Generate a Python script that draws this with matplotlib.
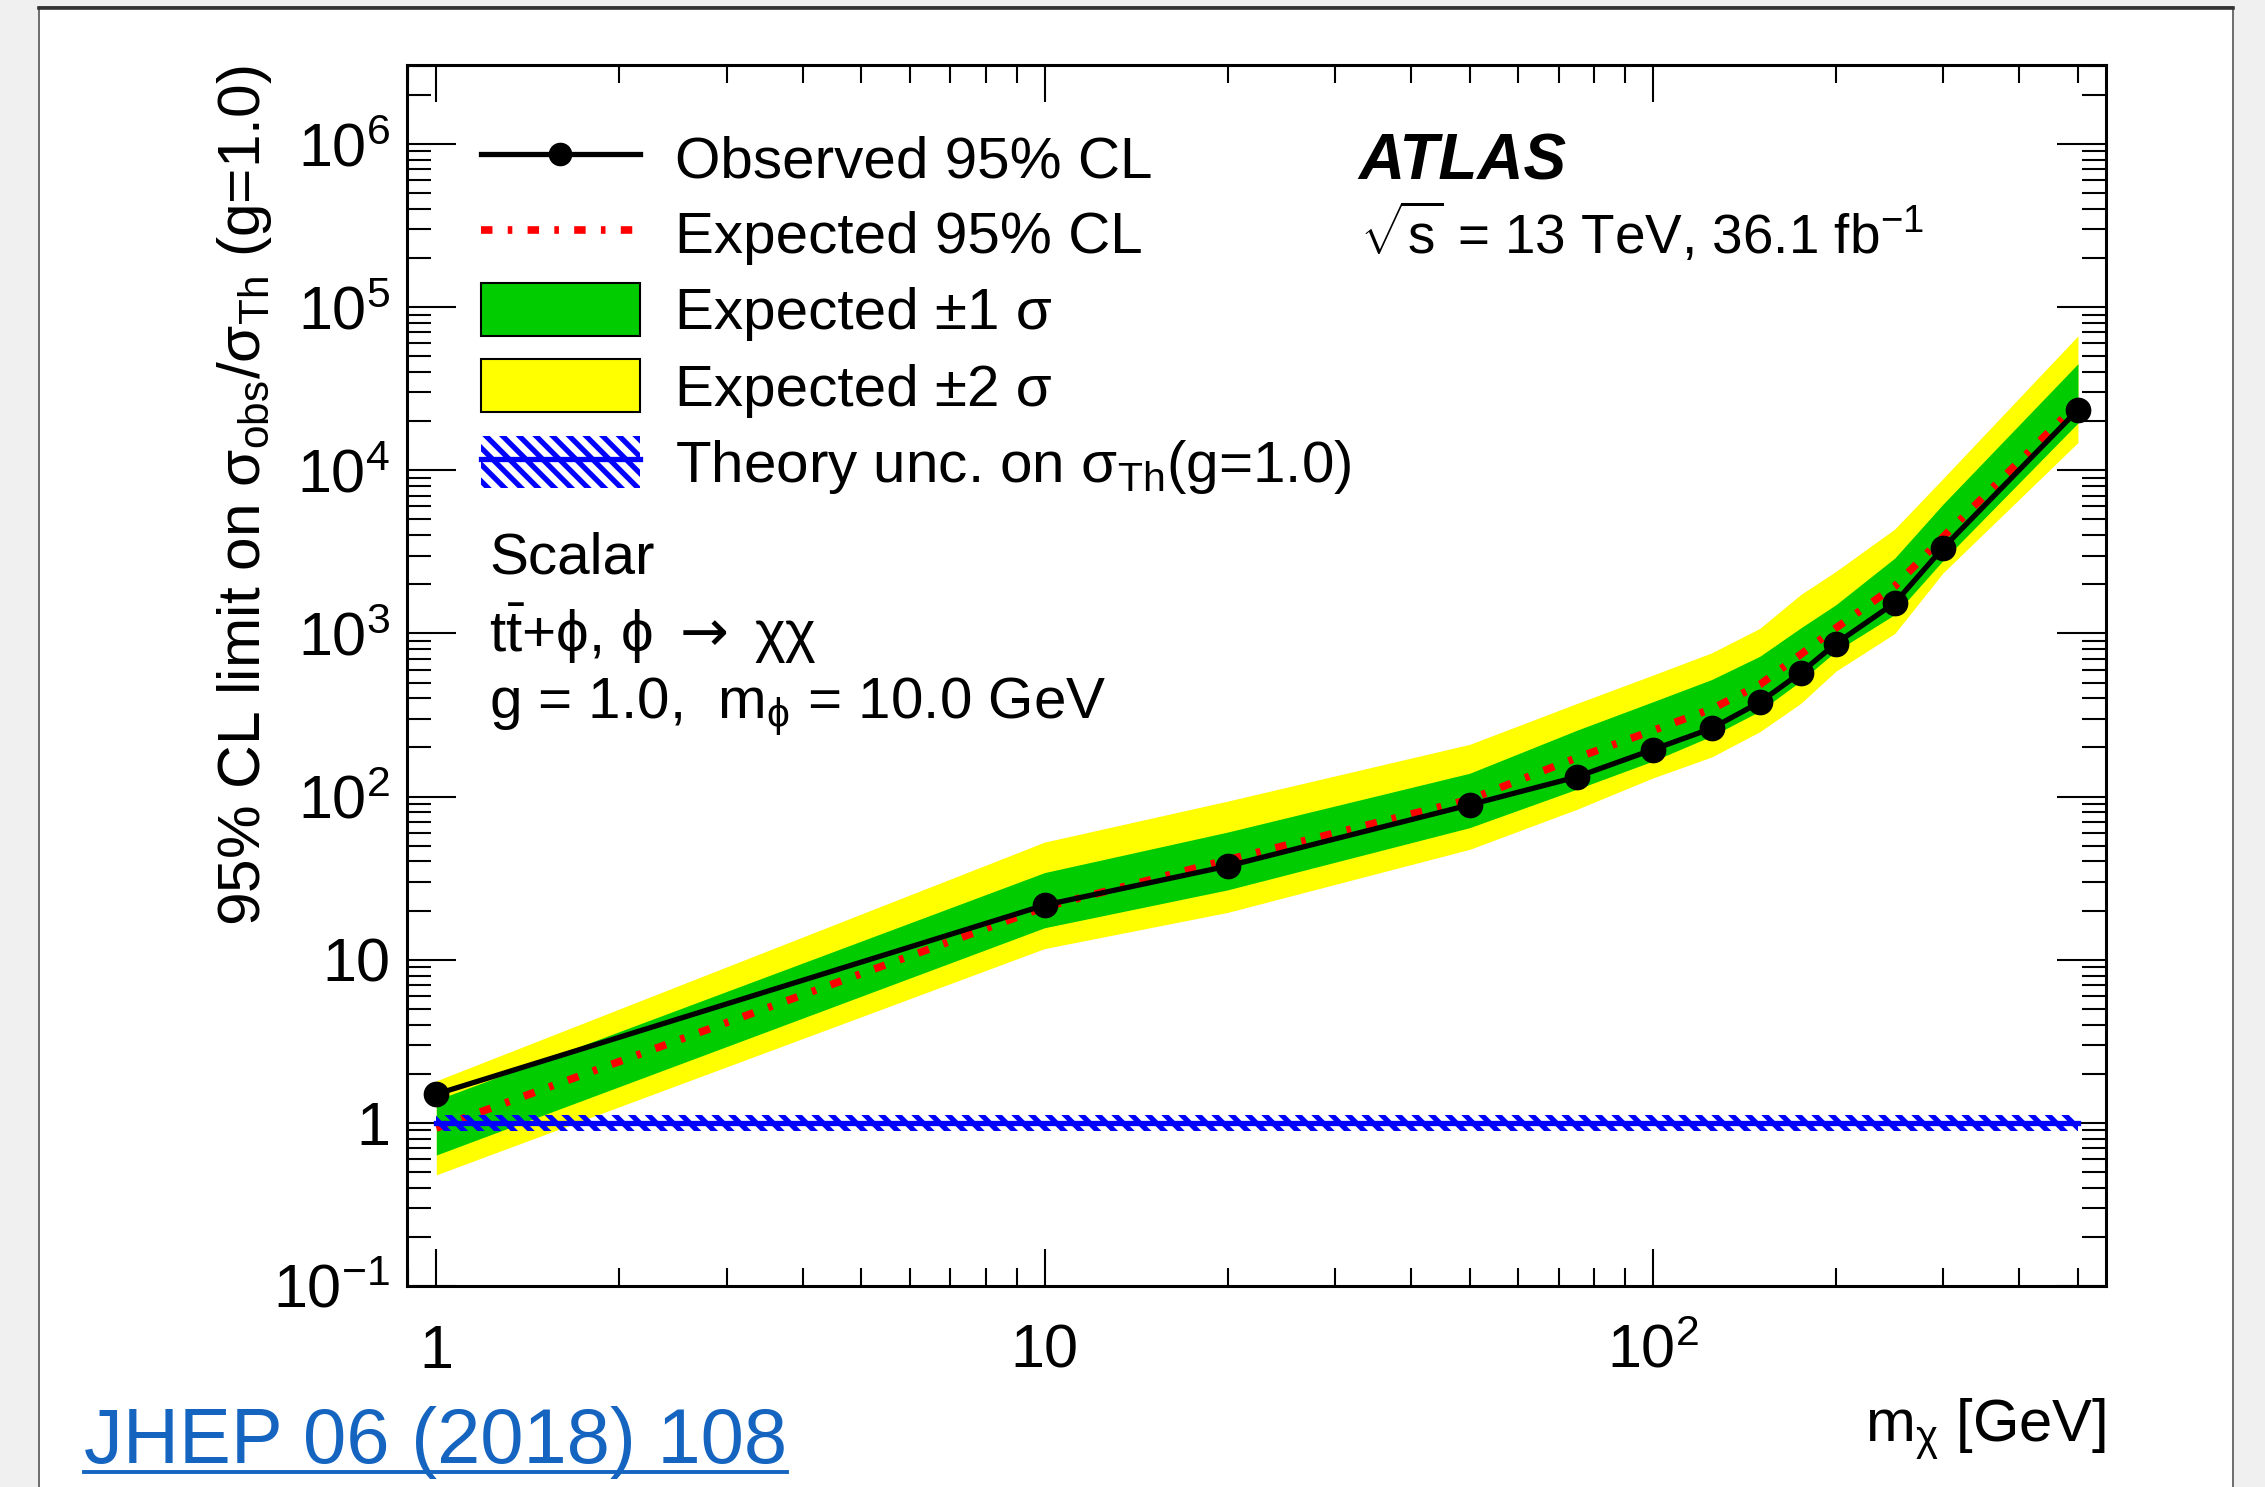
import numpy as np
import matplotlib
matplotlib.use("Agg")
import matplotlib.pyplot as plt
from matplotlib.lines import Line2D
from matplotlib.patches import Patch, Rectangle
from matplotlib.ticker import FixedLocator, LogLocator, NullFormatter, FuncFormatter

# ---------------- data ----------------
mass = [1, 10, 20, 50, 75, 100, 125, 150, 175, 200, 250, 300, 500]
observed = [1.5, 21.6, 37.5, 89, 132, 194, 262, 379, 574, 867, 1540, 3340, 23500]
expected = [0.93, 21, 41, 96, 173, 254, 345, 486, 743, 1080, 1950, 3900, 25800]
exp_p1 = [1.38, 34.2, 60.6, 139, 255, 381, 522, 725, 1080, 1500, 2900, 6200, 45000]
exp_m1 = [0.635, 15.7, 26.8, 64.5, 111, 165, 235, 334, 510, 778, 1306, 2800, 19500]
exp_p2 = [1.81, 52.6, 93.8, 209, 372, 555, 761, 1075, 1730, 2400, 4370, 8900, 66700]
exp_m2 = [0.48, 11.7, 19.5, 47.5, 83.5, 130, 175, 250, 372, 587, 1000, 2350, 14800]

theory_mass = [1, 500]
theory_center = [1.0, 1.0]
theory_lo = [0.89, 0.89]
theory_hi = [1.12, 1.12]

x_major = [1, 10, 100]
y_major = [0.1, 1, 10, 100, 1e3, 1e4, 1e5, 1e6]

legend_labels = ["Observed 95% CL", "Expected 95% CL", "Expected ±1 σ",
                 "Expected ±2 σ", r"Theory unc. on σ$_{\mathrm{Th}}$(g=1.0)"]

# ---------------- style ----------------
plt.rcParams['font.family'] = ['Liberation Sans', 'DejaVu Sans']
plt.rcParams['mathtext.fontset'] = 'custom'
plt.rcParams['mathtext.rm'] = 'Liberation Sans'
plt.rcParams['mathtext.it'] = 'Liberation Sans:italic'
plt.rcParams['mathtext.bf'] = 'Liberation Sans:bold'
plt.rcParams['mathtext.sf'] = 'DejaVu Sans'
plt.rcParams['hatch.linewidth'] = 3.8

W, H = 2265, 1487
fig = plt.figure(figsize=(W / 100, H / 100), dpi=100)
fig.patch.set_facecolor('#f0f0f0')

# white page frame
frame = Rectangle((39 / W, -0.05), (2233 - 39) / W, 1.05 - 7.5 / H,
                  transform=fig.transFigure, facecolor='white',
                  edgecolor='#555555', lw=1.2, zorder=-10)
fig.add_artist(frame)
fig.add_artist(Line2D([39 / W, 2233 / W], [1 - 7.5 / H, 1 - 7.5 / H],
                      transform=fig.transFigure, color='#333333', lw=2.6, zorder=-9))

L, R, T, B = 407, 2106, 65, 1286
ax = fig.add_axes([L / W, 1 - B / H, (R - L) / W, (B - T) / H])
ax.set_facecolor('white')
ax.set_xscale('log')
ax.set_yscale('log')
ax.set_xlim(0.895, 556)
ax.set_ylim(0.1, 3.05e6)

GREEN = '#00cc00'
YELLOW = '#ffff00'
RED = '#ff0000'
BLUE = '#0000ff'
DASH = (1.5, 2.0, 0.6, 2.0)
HATCH = '\\\\'

ax.fill_between(mass, exp_m2, exp_p2, color=YELLOW, lw=0, zorder=1)
ax.fill_between(mass, exp_m1, exp_p1, color=GREEN, lw=0, zorder=2)
ax.plot(mass, expected, color=RED, lw=5.5, dashes=DASH, zorder=3)
ax.fill_between(theory_mass, theory_lo, theory_hi, facecolor='none',
                edgecolor=BLUE, hatch=HATCH, lw=0, zorder=4)
ax.plot(theory_mass, theory_center, color=BLUE, lw=3.8, zorder=4)
ax.plot(mass, observed, color='black', lw=3.8, marker='o', ms=17.5, zorder=5)

# ---------------- axes / ticks ----------------
for s in ax.spines.values():
    s.set_linewidth(2.2)

ax.xaxis.set_major_locator(FixedLocator(x_major))
ax.xaxis.set_minor_locator(LogLocator(base=10, subs=np.arange(2, 10), numticks=100))
ax.yaxis.set_major_locator(FixedLocator(y_major))
ax.yaxis.set_minor_locator(LogLocator(base=10, subs=np.arange(2, 10), numticks=100))
ax.xaxis.set_minor_formatter(NullFormatter())
ax.yaxis.set_minor_formatter(NullFormatter())


def log_fmt(v, pos):
    e = int(round(np.log10(v)))
    if e == 0:
        return '1'
    if e == 1:
        return '10'
    return r'$\mathregular{10^{%d}}$' % e


ax.xaxis.set_major_formatter(FuncFormatter(log_fmt))
ax.yaxis.set_major_formatter(FuncFormatter(log_fmt))

ax.tick_params(which='both', direction='in', top=True, right=True, width=1.5,
               labelsize=44, colors='black')
ax.tick_params(axis='x', which='major', length=26.6, pad=59)
ax.tick_params(axis='x', which='minor', length=13)
ax.tick_params(axis='y', which='major', length=35, pad=12)
ax.tick_params(axis='y', which='minor', length=17.3)

ax.set_ylabel(r"95% CL limit on $\mathrm{σ_{obs}/σ_{Th}}$ (g=1.0)", fontsize=43.5, loc='top')
ax.yaxis.set_label_coords((274 - L) / (R - L), 1.0)
ax.set_xlabel(r"m$_{\mathrm{χ}}$ [GeV]", fontsize=43, loc='right')
ax.xaxis.set_label_coords(1.0, (B - 1396) / (B - T))

# ---------------- legend ----------------
h_obs = Line2D([], [], color='black', lw=3.8, marker='o', ms=16)
h_exp = Line2D([], [], color=RED, lw=5.5, dashes=DASH)
h_g = Patch(facecolor=GREEN, edgecolor='black', lw=1.5)
h_y = Patch(facecolor=YELLOW, edgecolor='black', lw=1.5)
h_th = (Patch(facecolor='none', edgecolor=BLUE, hatch=HATCH, lw=0),
        Line2D([], [], color=BLUE, lw=3.8))
leg = ax.legend([h_obs, h_exp, h_g, h_y, h_th], legend_labels,
                loc='upper left', bbox_to_anchor=(481 / W, 1 - 131 / H),
                bbox_transform=fig.transFigure, frameon=False, fontsize=42,
                borderpad=0, borderaxespad=0, handlelength=2.72,
                handleheight=1.0, handletextpad=0.61, labelspacing=0.31)

# ---------------- annotations ----------------
def ftext(x, y, s, **kw):
    return fig.text(x / W, 1 - y / H, s, va='baseline', ha='left', **kw)

ftext(1358, 180, "ATLAS", fontsize=46, fontweight='bold', fontstyle='italic')
ftext(1360, 254, r"$\sqrt{\mathrm{s}}$ = 13 TeV, 36.1 fb$^{\mathrm{-1}}$", fontsize=39.5)
ftext(489, 574, "Scalar", fontsize=42)
ftext(489, 652, r"$\mathrm{t\bar{t}}$+$\mathrm{\phi}$, $\mathrm{\phi}$ $\mathsf{\rightarrow}$ $\mathrm{χχ}$",
      fontsize=42)
ftext(489, 718, r"g = 1.0,  m$_{\mathrm{\phi}}$ = 10.0 GeV", fontsize=42)

link = ftext(84, 1463, "JHEP 06 (2018) 108", fontsize=56, color='#1565c0')

fig.canvas.draw()
for t in ax.get_xticklabels():
    t.set_va('baseline')
r = fig.canvas.get_renderer()
bb = link.get_window_extent(r)
fig.add_artist(Line2D([bb.x0 / W, bb.x1 / W], [1 - 1472 / H, 1 - 1472 / H],
                      transform=fig.transFigure, color='#1565c0', lw=2.8))

fig.savefig("out.png", dpi=100, facecolor=fig.get_facecolor())
